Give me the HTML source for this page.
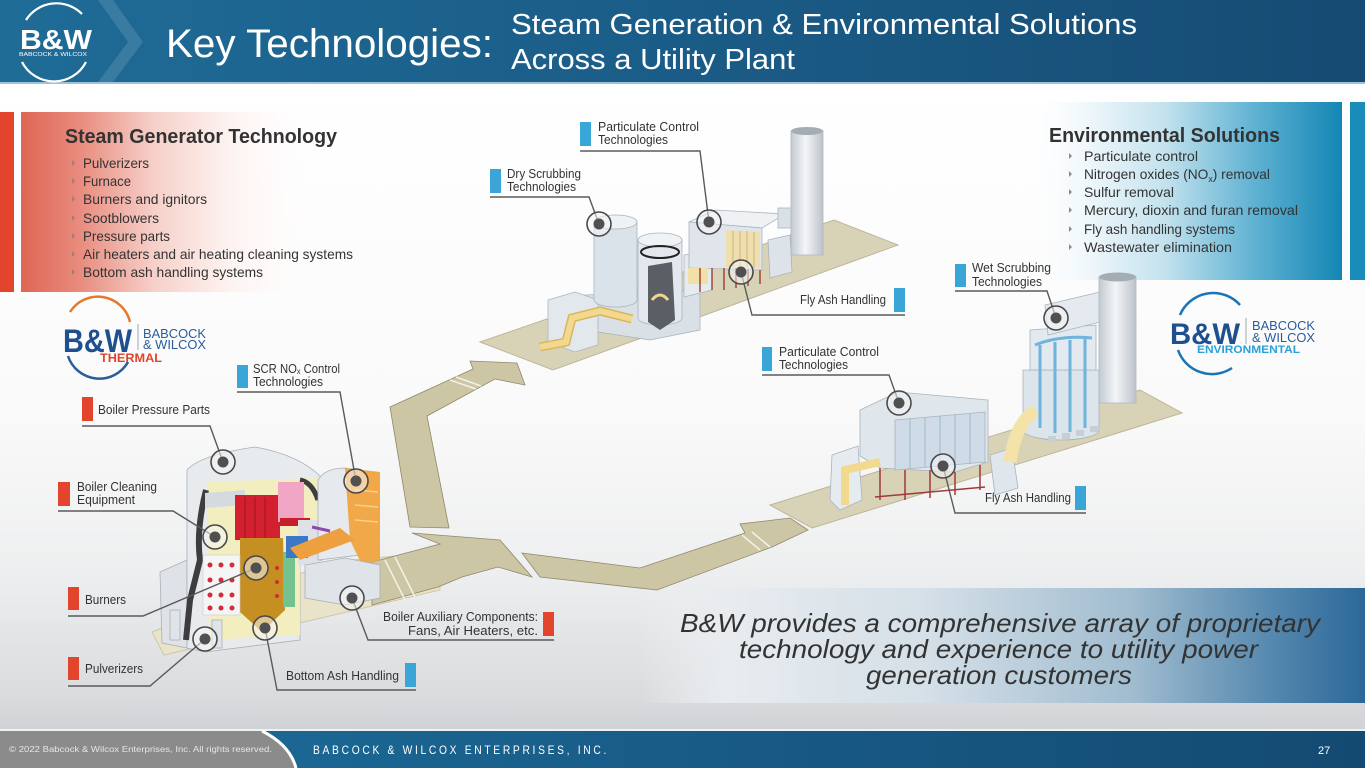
<!DOCTYPE html>
<html><head><meta charset="utf-8">
<style>
html,body{margin:0;padding:0;width:1365px;height:768px;overflow:hidden;background:#fff;}
svg{display:block;}
text{font-family:"Liberation Sans",Arial,sans-serif;}
</style></head><body>
<svg width="1365" height="768" viewBox="0 0 1365 768" xmlns="http://www.w3.org/2000/svg">
<defs>
 <linearGradient id="bg" gradientUnits="userSpaceOnUse" x1="0" y1="83" x2="0" y2="730">
  <stop offset="0" stop-color="#ffffff"/><stop offset="0.5" stop-color="#fafafa"/>
  <stop offset="0.75" stop-color="#eeeff0"/><stop offset="0.95" stop-color="#d9dbdd"/><stop offset="1" stop-color="#d0d3d6"/>
 </linearGradient>
 <linearGradient id="hdr" gradientUnits="userSpaceOnUse" x1="0" y1="0" x2="1365" y2="0">
  <stop offset="0" stop-color="#1f6c97"/><stop offset="0.5" stop-color="#1a5c87"/><stop offset="1" stop-color="#164b73"/>
 </linearGradient>
 <linearGradient id="lp" gradientUnits="userSpaceOnUse" x1="21" y1="0" x2="400" y2="0">
  <stop offset="0" stop-color="#de6654"/><stop offset="0.15" stop-color="#e88a7c"/><stop offset="0.35" stop-color="#f6d0c9"/>
  <stop offset="0.55" stop-color="#fdf3f1"/><stop offset="0.8" stop-color="#ffffff" stop-opacity="0"/>
 </linearGradient>
 <linearGradient id="rp" gradientUnits="userSpaceOnUse" x1="1020" y1="0" x2="1342" y2="0">
  <stop offset="0" stop-color="#ffffff" stop-opacity="0"/><stop offset="0.2" stop-color="#f1f8fb"/>
  <stop offset="0.45" stop-color="#c3e2ee"/><stop offset="0.72" stop-color="#62b3d3"/><stop offset="1" stop-color="#1386b4"/>
 </linearGradient>
 <linearGradient id="bp" gradientUnits="userSpaceOnUse" x1="640" y1="0" x2="1365" y2="0">
  <stop offset="0" stop-color="#eef0f2" stop-opacity="0"/><stop offset="0.12" stop-color="#e8ecef"/>
  <stop offset="0.4" stop-color="#d4dfe7"/><stop offset="0.68" stop-color="#a0bccf"/><stop offset="0.88" stop-color="#5286ad"/><stop offset="1" stop-color="#2b6899"/>
 </linearGradient>
 <linearGradient id="ft" gradientUnits="userSpaceOnUse" x1="0" y1="0" x2="1365" y2="0">
  <stop offset="0" stop-color="#1d6e9c"/><stop offset="1" stop-color="#134a72"/>
 </linearGradient>
 <linearGradient id="stk" x1="0" y1="0" x2="1" y2="0">
  <stop offset="0" stop-color="#c3cad1"/><stop offset="0.45" stop-color="#f3f5f7"/><stop offset="1" stop-color="#bcc3ca"/>
 </linearGradient>
 <g id="mk"><circle r="12" fill="#f4f4f4" fill-opacity="0.55" stroke="#4a4a4a" stroke-width="1.6"/><circle r="5.5" fill="#505050"/></g>
 <path id="bul" d="M0,-3 L3,0 L0,3 Z"/>
</defs>

<!-- background -->
<rect x="0" y="0" width="1365" height="768" fill="url(#bg)"/>

<!-- header -->
<rect x="0" y="0" width="1365" height="82" fill="url(#hdr)"/>
<rect x="0" y="82" width="1365" height="2" fill="#9fc2d6"/>
<polygon points="98,0 113,0 143,42 113,82 98,82 128,42" fill="#ffffff" fill-opacity="0.12"/>
<path d="M26,20 A36,36 0 0 1 82,14" fill="none" stroke="#fff" stroke-width="2.2"/>
<path d="M22,62 A36,36 0 0 0 86,62" fill="none" stroke="#fff" stroke-width="2.2"/>
<text x="20" y="49" font-size="28" font-weight="bold" fill="#fff" textLength="72" lengthAdjust="spacingAndGlyphs">B&amp;W</text>
<text x="19" y="56" font-size="5" fill="#fff" textLength="68" lengthAdjust="spacingAndGlyphs">BABCOCK &amp; WILCOX</text>
<text x="166" y="57" font-size="40" fill="#fff" textLength="327" lengthAdjust="spacingAndGlyphs">Key Technologies:</text>
<text x="511" y="34" font-size="29" fill="#fff" textLength="626" lengthAdjust="spacingAndGlyphs">Steam Generation &amp; Environmental Solutions</text>
<text x="511" y="69" font-size="29" fill="#fff" textLength="284" lengthAdjust="spacingAndGlyphs">Across a Utility Plant</text>

<!-- left panel -->
<rect x="0" y="112" width="14" height="180" fill="#e2452b"/>
<rect x="21" y="112" width="380" height="180" fill="url(#lp)"/>
<text x="65" y="143" font-size="20" font-weight="bold" fill="#333" textLength="272" lengthAdjust="spacingAndGlyphs">Steam Generator Technology</text>
<g fill="#a87a74">
 <use href="#bul" x="72" y="163"/><use href="#bul" x="72" y="181"/><use href="#bul" x="72" y="199"/><use href="#bul" x="72" y="218"/>
 <use href="#bul" x="72" y="236"/><use href="#bul" x="72" y="254"/><use href="#bul" x="72" y="272"/>
</g>
<g font-size="14" fill="#333">
 <text x="83" y="168" textLength="66" lengthAdjust="spacingAndGlyphs">Pulverizers</text>
 <text x="83" y="186" textLength="48" lengthAdjust="spacingAndGlyphs">Furnace</text>
 <text x="83" y="204" textLength="124" lengthAdjust="spacingAndGlyphs">Burners and ignitors</text>
 <text x="83" y="223" textLength="76" lengthAdjust="spacingAndGlyphs">Sootblowers</text>
 <text x="83" y="241" textLength="87" lengthAdjust="spacingAndGlyphs">Pressure parts</text>
 <text x="83" y="259" textLength="270" lengthAdjust="spacingAndGlyphs">Air heaters and air heating cleaning systems</text>
 <text x="83" y="277" textLength="180" lengthAdjust="spacingAndGlyphs">Bottom ash handling systems</text>
</g>

<!-- right panel -->
<rect x="1020" y="102" width="322" height="178" fill="url(#rp)"/>
<rect x="1350" y="102" width="15" height="178" fill="#1a8cba"/>
<text x="1049" y="142" font-size="20" font-weight="bold" fill="#333" textLength="231" lengthAdjust="spacingAndGlyphs">Environmental Solutions</text>
<g fill="#8a8a8a">
 <use href="#bul" x="1069" y="156"/><use href="#bul" x="1069" y="174"/><use href="#bul" x="1069" y="192"/>
 <use href="#bul" x="1069" y="210"/><use href="#bul" x="1069" y="229"/><use href="#bul" x="1069" y="247"/>
</g>
<g font-size="14" fill="#333">
 <text x="1084" y="161" textLength="114" lengthAdjust="spacingAndGlyphs">Particulate control</text>
 <text x="1084" y="179" textLength="186" lengthAdjust="spacingAndGlyphs">Nitrogen oxides (NO<tspan font-size="9" dy="3">x</tspan><tspan dy="-3">) removal</tspan></text>
 <text x="1084" y="197" textLength="90" lengthAdjust="spacingAndGlyphs">Sulfur removal</text>
 <text x="1084" y="215" textLength="214" lengthAdjust="spacingAndGlyphs">Mercury, dioxin and furan removal</text>
 <text x="1084" y="234" textLength="151" lengthAdjust="spacingAndGlyphs">Fly ash handling systems</text>
 <text x="1084" y="252" textLength="148" lengthAdjust="spacingAndGlyphs">Wastewater elimination</text>
</g>

<!-- bottom statement panel -->
<rect x="640" y="588" width="725" height="115" fill="url(#bp)"/>
<g font-size="26" font-style="italic" fill="#333">
 <text x="680" y="632" textLength="640" lengthAdjust="spacingAndGlyphs">B&amp;W provides a comprehensive array of proprietary</text>
 <text x="739" y="658" textLength="519" lengthAdjust="spacingAndGlyphs">technology and experience to utility power</text>
 <text x="866" y="684" textLength="266" lengthAdjust="spacingAndGlyphs">generation customers</text>
</g>

<!-- platforms -->
<polygon points="480,342 553,370 898,245 834,220" fill="#d8d2b6" stroke="#bdb699"/>
<polygon points="770,505 812,528 1182,413 1140,390" fill="#d8d2b6" stroke="#bdb699"/>
<polygon points="152,632 164,655 440,590 440,552 330,562" fill="#e9e3c9" stroke="#cfc8a8"/>

<!-- arrows -->
<g fill="#cdc6a5" stroke="#8e886c" stroke-width="0.8">
 <polygon points="410,527 390,407 473,369 470,361 517,363 525,385 495,379 427,416 449,528"/>
 <polygon points="372,562 440,544 412,533 500,540 532,577 498,567 462,577 438,587 372,605"/>
 <polygon points="522,553 640,568 745,533 740,524 790,518 808,530 772,547 657,590 540,577"/>
</g>
<g stroke="#f4f1e6" stroke-width="1.5">
 <line x1="450" y1="380" x2="476" y2="389"/><line x1="456" y1="377" x2="481" y2="386"/>
 <line x1="385" y1="560" x2="405" y2="600"/><line x1="395" y1="557" x2="415" y2="597"/>
 <line x1="742" y1="535" x2="760" y2="550"/><line x1="752" y1="532" x2="770" y2="547"/>
</g>

<!-- middle plant equipment -->
<g stroke="#aab4be" stroke-width="0.8">
 <polygon points="585,295 700,290 700,330 650,340 585,330" fill="#d9e0e6"/>
 <polygon points="548,300 575,292 598,300 598,345 575,352 548,342" fill="#e3e8ed"/>
 <path d="M594,222 L594,300 A21.5,7 0 0 0 637,300 L637,222 Z" fill="#dbe3ea"/>
 <ellipse cx="615.5" cy="222" rx="21.5" ry="7" fill="#eef2f5"/>
 <path d="M638,240 L638,318 A22,7 0 0 0 682,318 L682,240 Z" fill="#e2e8ee"/>
 <ellipse cx="660" cy="240" rx="22" ry="7" fill="#f0f3f6"/>
 <polygon points="684,255 712,250 712,290 684,297" fill="#e6ebef"/>
 <polygon points="689,222 715,210 785,214 762,228" fill="#eef2f5"/>
 <polygon points="689,222 762,228 762,270 689,268" fill="#dfe5ea"/>
 <polygon points="768,240 790,235 792,272 770,278" fill="#dde3e8"/>
 <rect x="778" y="208" width="24" height="20" fill="#d9e0e6"/>
</g>
<path d="M540,347 L566,342 L572,318 L600,311 L632,319" fill="none" stroke="#d9b55c" stroke-width="9"/>
<path d="M540,347 L566,342 L572,318 L600,311 L632,319" fill="none" stroke="#f3d990" stroke-width="6"/>
<polygon points="648,266 672,262 675,320 660,330 648,322" fill="#5a5f66"/>
<path d="M652,300 Q660,290 668,300" stroke="#f0d78c" stroke-width="3" fill="none"/>
<ellipse cx="660" cy="252" rx="19" ry="6" fill="none" stroke="#222" stroke-width="2"/>
<rect x="688" y="268" width="20" height="16" fill="#f2e1a6"/>
<polygon points="726,230 760,232 760,268 726,267" fill="#efdfae"/>
<g stroke="#c9b47a" stroke-width="1"><line x1="733" y1="231" x2="733" y2="267"/><line x1="740" y1="231" x2="740" y2="267"/><line x1="747" y1="231" x2="747" y2="268"/><line x1="754" y1="232" x2="754" y2="268"/></g>
<g stroke="#a0463c" stroke-width="1.5">
 <line x1="700" y1="268" x2="700" y2="292"/><line x1="712" y1="268" x2="712" y2="290"/><line x1="724" y1="268" x2="724" y2="290"/>
 <line x1="736" y1="268" x2="736" y2="288"/><line x1="748" y1="269" x2="748" y2="286"/><line x1="760" y1="270" x2="760" y2="284"/>
</g>
<rect x="791" y="131" width="32" height="124" fill="url(#stk)" stroke="#b0b8c0" stroke-width="0.8"/>
<ellipse cx="807" cy="131" rx="16" ry="4" fill="#a4acb4"/>

<!-- right plant equipment -->
<g stroke="#a9b3bd" stroke-width="0.8">
 <polygon points="832,455 858,446 862,500 840,510 830,500" fill="#e6ebef"/>
 <polygon points="860,410 898,392 988,400 988,462 955,472 880,468 860,456" fill="#dfe6ec"/>
 <polygon points="895,420 985,412 985,462 895,470" fill="#cfdbe6"/>
 <polygon points="990,455 1012,448 1018,488 995,495" fill="#dfe6ec"/>
 <path d="M1023,370 L1023,430 A38,10 0 0 0 1099,430 L1099,370 Z" fill="#dde5ec"/>
 <path d="M1030,330 L1030,370 L1096,370 L1096,325 Z" fill="#e2e9ef"/>
 <polygon points="1045,305 1100,292 1100,322 1048,335" fill="#e4eaef"/>
</g>
<path d="M845,505 L845,470 L880,462" fill="none" stroke="#f1d98e" stroke-width="8"/>
<path d="M1010,462 Q1015,425 1035,410" fill="none" stroke="#f3e3a8" stroke-width="13"/>
<g stroke="#9fb8cf" stroke-width="1"><line x1="910" y1="419" x2="910" y2="468"/><line x1="925" y1="418" x2="925" y2="467"/><line x1="940" y1="416" x2="940" y2="466"/><line x1="955" y1="415" x2="955" y2="465"/><line x1="970" y1="414" x2="970" y2="464"/></g>
<g stroke="#9e3a3a" stroke-width="1.5">
 <line x1="880" y1="468" x2="880" y2="500"/><line x1="905" y1="470" x2="905" y2="500"/><line x1="930" y1="470" x2="930" y2="498"/>
 <line x1="955" y1="472" x2="955" y2="495"/><line x1="980" y1="465" x2="980" y2="490"/><line x1="875" y1="497" x2="985" y2="487"/>
</g>
<g stroke="#6fb4dd" stroke-width="3" fill="none">
 <path d="M1040,345 L1040,428"/><path d="M1055,342 L1055,433"/><path d="M1070,340 L1070,432"/><path d="M1085,338 L1085,428"/>
 <path d="M1035,345 Q1060,335 1092,338"/>
</g>
<g fill="#c8ced4"><rect x="1048" y="436" width="8" height="6"/><rect x="1062" y="433" width="8" height="6"/><rect x="1076" y="430" width="8" height="6"/><rect x="1090" y="426" width="8" height="6"/></g>
<rect x="1099" y="277" width="37" height="126" fill="url(#stk)" stroke="#b0b8c0" stroke-width="0.8"/>
<ellipse cx="1117.5" cy="277" rx="18.5" ry="4.5" fill="#a4acb4"/>

<!-- boiler -->
<polygon points="160,572 187,560 187,648 162,643" fill="#dfe3e7" stroke="#a8b0b8" stroke-width="0.8"/>
<path d="M187,470 Q200,455 255,447 Q300,455 322,478 L322,560 L300,565 L300,640 L205,652 L187,648 Z" fill="#e8ebee" stroke="#a8b0b8" stroke-width="0.8"/>
<polygon points="207,482 318,478 318,560 300,565 300,635 210,640" fill="#f3eec0"/>
<path d="M206,490 Q196,530 200,560 L190,600 L186,640" fill="none" stroke="#3d3d3d" stroke-width="6"/>
<path d="M300,480 Q312,482 318,500" fill="none" stroke="#3d3d3d" stroke-width="5"/>
<polygon points="205,493 245,490 245,505 205,508" fill="#d5dade"/>
<rect x="235" y="495" width="45" height="45" fill="#d3202e"/>
<g stroke="#9e1420" stroke-width="1"><line x1="245" y1="497" x2="245" y2="538"/><line x1="255" y1="497" x2="255" y2="538"/><line x1="265" y1="497" x2="265" y2="538"/></g>
<rect x="278" y="482" width="26" height="40" fill="#f2a6c6"/>
<rect x="280" y="518" width="30" height="8" fill="#c81e2c"/>
<rect x="298" y="520" width="22" height="45" fill="#dde2e6"/>
<polygon points="240,538 283,538 285,610 262,632 240,612" fill="#c68f22"/>
<rect x="283" y="552" width="12" height="55" fill="#74c290"/>
<rect x="286" y="536" width="22" height="22" fill="#3b78c6"/>
<rect x="203" y="555" width="37" height="60" fill="#f5f5f5" stroke="#cccccc" stroke-width="0.6"/>
<g fill="#d62a3a">
 <circle cx="210" cy="565" r="2.5"/><circle cx="221" cy="565" r="2.5"/><circle cx="232" cy="565" r="2.5"/>
 <circle cx="210" cy="580" r="2.5"/><circle cx="221" cy="580" r="2.5"/><circle cx="232" cy="580" r="2.5"/>
 <circle cx="210" cy="595" r="2.5"/><circle cx="221" cy="595" r="2.5"/><circle cx="232" cy="595" r="2.5"/>
 <circle cx="210" cy="608" r="2.5"/><circle cx="221" cy="608" r="2.5"/><circle cx="232" cy="608" r="2.5"/>
 <circle cx="277" cy="568" r="2"/><circle cx="277" cy="582" r="2"/><circle cx="277" cy="596" r="2"/>
</g>
<path d="M318,480 Q325,468 345,468 L360,470 L360,555 L318,560 Z" fill="#e6eaee" stroke="#a8b0b8" stroke-width="0.8"/>
<polygon points="345,468 380,472 380,560 362,565 350,540" fill="#f0a848"/>
<g stroke="#f7cf8c" stroke-width="1.5"><line x1="355" y1="490" x2="378" y2="492"/><line x1="355" y1="505" x2="378" y2="507"/><line x1="355" y1="520" x2="378" y2="522"/></g>
<polygon points="290,548 340,528 355,540 300,560" fill="#eea040"/>
<line x1="312" y1="527" x2="330" y2="531" stroke="#8a4ab0" stroke-width="3"/>
<g fill="#dfe4e8" stroke="#a8b0b8" stroke-width="0.8">
 <polygon points="305,565 345,558 380,565 380,598 345,605 305,598"/>
 <rect x="170" y="610" width="10" height="30"/><rect x="212" y="620" width="10" height="28"/>
</g>

<!-- logos -->
<path d="M70,312 A33,33 0 0 1 130,322" fill="none" stroke="#e8772e" stroke-width="2.5"/>
<path d="M68,356 A33,33 0 0 0 128,362" fill="none" stroke="#2a5d9a" stroke-width="2.5"/>
<text x="63" y="352" font-size="32" font-weight="bold" fill="#1e4f8f" textLength="69" lengthAdjust="spacingAndGlyphs">B&amp;W</text>
<line x1="138" y1="324" x2="138" y2="350" stroke="#9aa" stroke-width="1"/>
<text x="143" y="338" font-size="12.5" fill="#2a5d9a" textLength="63" lengthAdjust="spacingAndGlyphs">BABCOCK</text>
<text x="143" y="349" font-size="12.5" fill="#2a5d9a" textLength="63" lengthAdjust="spacingAndGlyphs">&amp; WILCOX</text>
<text x="100" y="362" font-size="12" font-weight="bold" fill="#e0452a" textLength="62" lengthAdjust="spacingAndGlyphs">THERMAL</text>

<path d="M1180,315 A36,36 0 0 1 1240,305" fill="none" stroke="#1a74b8" stroke-width="2.5"/>
<path d="M1178,350 A36,36 0 0 0 1232,368" fill="none" stroke="#1a74b8" stroke-width="2.5"/>
<text x="1170" y="344" font-size="30" font-weight="bold" fill="#1e4f8f" textLength="70" lengthAdjust="spacingAndGlyphs">B&amp;W</text>
<line x1="1246" y1="318" x2="1246" y2="344" stroke="#9aa" stroke-width="1"/>
<text x="1252" y="330" font-size="12.5" fill="#2a5d9a" textLength="63" lengthAdjust="spacingAndGlyphs">BABCOCK</text>
<text x="1252" y="342" font-size="12.5" fill="#2a5d9a" textLength="63" lengthAdjust="spacingAndGlyphs">&amp; WILCOX</text>
<text x="1197" y="353" font-size="11" font-weight="bold" fill="#2aa0d8" textLength="103" lengthAdjust="spacingAndGlyphs">ENVIRONMENTAL</text>

<!-- labels: tabs -->
<g fill="#3aa6d8">
 <rect x="580" y="122" width="11" height="24"/><rect x="490" y="169" width="11" height="24"/><rect x="894" y="288" width="11" height="24"/>
 <rect x="955" y="264" width="11" height="23"/><rect x="762" y="347" width="10" height="24"/><rect x="1075" y="486" width="11" height="24"/>
 <rect x="237" y="365" width="11" height="23"/><rect x="405" y="663" width="11" height="24"/>
</g>
<g fill="#e2452b">
 <rect x="82" y="397" width="11" height="24"/><rect x="58" y="482" width="12" height="24"/><rect x="68" y="587" width="11" height="23"/>
 <rect x="68" y="657" width="11" height="23"/><rect x="543" y="612" width="11" height="24"/>
</g>
<!-- underlines and leaders -->
<g fill="none" stroke="#5a5a5a" stroke-width="1.4">
 <path d="M580,151 L700,151 L709,222"/>
 <path d="M490,197 L589,197 L599,224"/>
 <path d="M905,315 L752,315 L741,272"/>
 <path d="M955,291 L1047,291 L1056,318"/>
 <path d="M762,375 L889,375 L899,403"/>
 <path d="M1086,513 L955,513 L943,466"/>
 <path d="M237,392 L340,392 L356,481"/>
 <path d="M82,426 L210,426 L223,462"/>
 <path d="M58,511 L173,511 L215,537"/>
 <path d="M68,616 L143,616 L256,568"/>
 <path d="M68,686 L150,686 L205,639"/>
 <path d="M416,690 L277,690 L265,628"/>
 <path d="M554,640 L368,640 L352,598"/>
</g>
<!-- markers -->
<use href="#mk" x="709" y="222"/><use href="#mk" x="599" y="224"/><use href="#mk" x="741" y="272"/>
<use href="#mk" x="1056" y="318"/><use href="#mk" x="899" y="403"/><use href="#mk" x="943" y="466"/>
<use href="#mk" x="356" y="481"/><use href="#mk" x="223" y="462"/><use href="#mk" x="215" y="537"/>
<use href="#mk" x="256" y="568"/><use href="#mk" x="205" y="639"/><use href="#mk" x="265" y="628"/><use href="#mk" x="352" y="598"/>

<!-- label text -->
<g font-size="12.5" fill="#333">
 <text x="598" y="131" textLength="101" lengthAdjust="spacingAndGlyphs">Particulate Control</text>
 <text x="598" y="144" textLength="70" lengthAdjust="spacingAndGlyphs">Technologies</text>
 <text x="507" y="178" textLength="74" lengthAdjust="spacingAndGlyphs">Dry Scrubbing</text>
 <text x="507" y="191" textLength="69" lengthAdjust="spacingAndGlyphs">Technologies</text>
 <text x="800" y="304" textLength="86" lengthAdjust="spacingAndGlyphs">Fly Ash Handling</text>
 <text x="972" y="272" textLength="79" lengthAdjust="spacingAndGlyphs">Wet Scrubbing</text>
 <text x="972" y="286" textLength="70" lengthAdjust="spacingAndGlyphs">Technologies</text>
 <text x="779" y="356" textLength="100" lengthAdjust="spacingAndGlyphs">Particulate Control</text>
 <text x="779" y="369" textLength="69" lengthAdjust="spacingAndGlyphs">Technologies</text>
 <text x="985" y="502" textLength="86" lengthAdjust="spacingAndGlyphs">Fly Ash Handling</text>
 <text x="253" y="373" textLength="87" lengthAdjust="spacingAndGlyphs">SCR NO<tspan font-size="8" dy="1">x</tspan><tspan dy="-1"> Control</tspan></text>
 <text x="253" y="386" textLength="70" lengthAdjust="spacingAndGlyphs">Technologies</text>
 <text x="98" y="414" textLength="112" lengthAdjust="spacingAndGlyphs">Boiler Pressure Parts</text>
 <text x="77" y="491" textLength="80" lengthAdjust="spacingAndGlyphs">Boiler Cleaning</text>
 <text x="77" y="504" textLength="58" lengthAdjust="spacingAndGlyphs">Equipment</text>
 <text x="85" y="604" textLength="41" lengthAdjust="spacingAndGlyphs">Burners</text>
 <text x="85" y="673" textLength="58" lengthAdjust="spacingAndGlyphs">Pulverizers</text>
 <text x="286" y="680" textLength="113" lengthAdjust="spacingAndGlyphs">Bottom Ash Handling</text>
 <text x="383" y="621" textLength="155" lengthAdjust="spacingAndGlyphs">Boiler Auxiliary Components:</text>
 <text x="408" y="635" textLength="130" lengthAdjust="spacingAndGlyphs">Fans, Air Heaters, etc.</text>
</g>

<!-- footer -->
<rect x="0" y="729" width="1365" height="2" fill="#eef2f5"/>
<rect x="0" y="731" width="1365" height="37" fill="url(#ft)"/>
<path d="M0,731 L262,731 Q290,745 296,768 L0,768 Z" fill="#8b8b8b"/>
<path d="M262,731 Q290,745 296,768" fill="none" stroke="#ffffff" stroke-width="3"/>
<text x="9" y="752" font-size="8" fill="#e6e6e6" textLength="263" lengthAdjust="spacingAndGlyphs">© 2022 Babcock &amp; Wilcox Enterprises, Inc.  All rights reserved.</text>
<text x="313" y="754" font-size="11.5" fill="#ffffff" textLength="296" lengthAdjust="spacingAndGlyphs" letter-spacing="3">BABCOCK &amp; WILCOX ENTERPRISES, INC.</text>
<text x="1318" y="754" font-size="11" fill="#ffffff">27</text>
</svg>
</body></html>
